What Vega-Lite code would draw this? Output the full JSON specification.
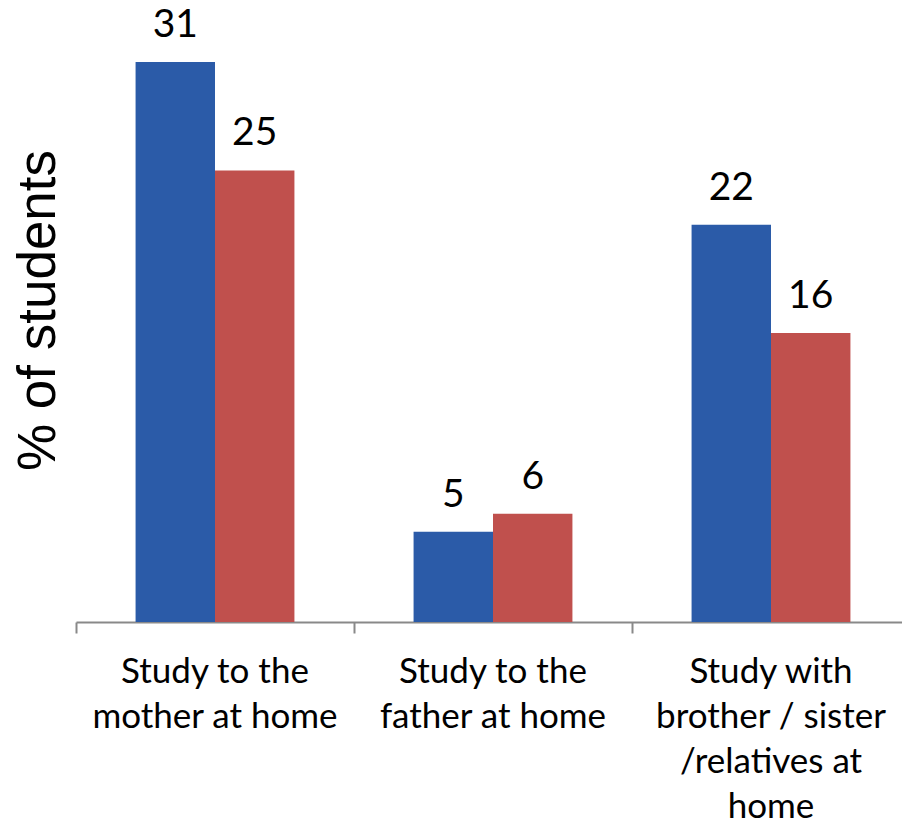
{
  "$schema": "https://vega.github.io/schema/vega-lite/v6.json",
  "width": 834,
  "height": 596,
  "autosize": {"type": "none"},
  "padding": {"left": 76, "top": 26, "right": 0, "bottom": 200},
  "background": "white",
  "config": {"view": {"stroke": null}},
  "data": {
    "values": [
      {"activity": "Study to the mother at home", "series": "Series 1", "pct": 31},
      {"activity": "Study to the mother at home", "series": "Series 2", "pct": 25},
      {"activity": "Study to the father at home", "series": "Series 1", "pct": 5},
      {"activity": "Study to the father at home", "series": "Series 2", "pct": 6},
      {"activity": "Study with brother / sister /relatives at home", "series": "Series 1", "pct": 22},
      {"activity": "Study with brother / sister /relatives at home", "series": "Series 2", "pct": 16}
    ]
  },
  "encoding": {
    "x": {
      "field": "activity",
      "type": "nominal",
      "sort": null,
      "scale": {"paddingInner": 0, "paddingOuter": 0},
      "axis": {
        "title": null,
        "labelAngle": 0,
        "labelFont": "Lato",
        "labelFontSize": 35,
        "labelColor": "#000000",
        "labelLineHeight": 45,
        "labelBaseline": "alphabetic",
        "labelPadding": 49,
        "labelLimit": 0,
        "labelOverlap": false,
        "labelExpr": "datum.value == 'Study to the mother at home' ? ['Study to the', 'mother at home'] : datum.value == 'Study to the father at home' ? ['Study to the', 'father at home'] : datum.value == 'Study with brother / sister /relatives at home' ? ['Study with', 'brother / sister', '/relatives at', 'home'] : ''",
        "domain": true,
        "domainColor": "#898989",
        "domainWidth": 2,
        "ticks": true,
        "bandPosition": 0,
        "tickColor": "#898989",
        "tickWidth": 2,
        "tickSize": 11,
        "grid": false
      }
    },
    "xOffset": {
      "field": "series",
      "type": "nominal",
      "sort": null,
      "scale": {"paddingInner": 0, "paddingOuter": 0.75}
    },
    "y": {
      "field": "pct",
      "type": "quantitative",
      "scale": {"domain": [0, 33], "nice": false},
      "axis": {
        "title": "% of students",
        "titleFont": "Liberation Sans",
        "titleFontSize": 53,
        "titleFontWeight": "normal",
        "titleColor": "#000000",
        "titleBaseline": "alphabetic",
        "titlePadding": 22,
        "titleY": 284,
        "domain": false,
        "ticks": false,
        "labels": false,
        "grid": false
      }
    }
  },
  "layer": [
    {
      "mark": {"type": "bar", "width": {"band": 1}},
      "encoding": {
        "color": {
          "field": "series",
          "type": "nominal",
          "sort": null,
          "scale": {"range": ["#2B5BA8", "#C0504D"]},
          "legend": null
        }
      }
    },
    {
      "mark": {
        "type": "text",
        "font": "Lato",
        "fontSize": 39,
        "baseline": "alphabetic",
        "dy": -25,
        "color": "#000000"
      },
      "encoding": {"text": {"field": "pct", "type": "quantitative"}}
    }
  ]
}
